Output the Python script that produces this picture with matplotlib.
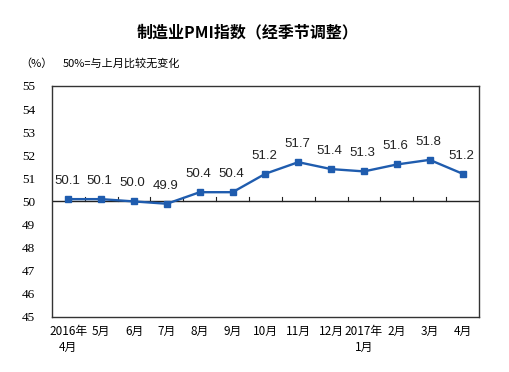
import numpy as np
import matplotlib
matplotlib.use("Agg")
import matplotlib.pyplot as plt

plt.rcParams['font.family'] = ['Noto Sans CJK SC', 'DejaVu Sans']

months = ['2016年\n4月', '5月', '6月', '7月', '8月', '9月', '10月', '11月',
          '12月', '2017年\n1月', '2月', '3月', '4月']
pmi = [50.1, 50.1, 50.0, 49.9, 50.4, 50.4, 51.2, 51.7, 51.4, 51.3, 51.6, 51.8, 51.2]
yticks = [45, 46, 47, 48, 49, 50, 51, 52, 53, 54, 55]

blue = '#1f5cae'
fig = plt.figure(figsize=(5.09, 3.72), dpi=100)
ax = fig.add_axes([0.102, 0.148, 0.839, 0.621])

x = np.arange(len(pmi))
ax.plot(x, pmi, color=blue, lw=1.7, marker='s', ms=3.8, zorder=3)
for xi, v in zip(x, pmi):
    ax.annotate('%.1f' % v, (xi, v), xytext=(-1, 13), textcoords='offset points',
                ha='center', va='center', fontsize=9.5, family='Liberation Sans', color='#222222')

ax.set_xlim(-0.5, len(pmi) - 0.5)
ax.set_ylim(45, 55)
ax.set_yticks(yticks)
ax.set_yticklabels([str(t) for t in yticks], family='Liberation Serif', fontsize=9.5)
ax.tick_params(axis='y', length=0, pad=12)
ax.set_xticks(x)
ax.set_xticklabels(months, fontsize=8.5, linespacing=1.25)
ax.tick_params(axis='x', length=0, pad=6)
for s in ax.spines.values():
    s.set_color('#333333')
    s.set_linewidth(1)

# 50 baseline with category separators
ax.axhline(50, color='#222222', lw=1, zorder=2)
for b in np.arange(0.5, len(pmi) - 1, 1):
    ax.plot([b, b], [50, 50.18], color='#222222', lw=0.8, zorder=2)

fig.text(0.487, 0.914, '制造业PMI指数（经季节调整）', ha='center', va='center',
         fontsize=11.5, fontweight='bold')
fig.text(0.04, 0.83, '（%）', ha='left', va='center', fontsize=8)
fig.text(0.124, 0.83, '50%=与上月比较无变化', ha='left', va='center', fontsize=8)

fig.savefig('out.png', dpi=100)
